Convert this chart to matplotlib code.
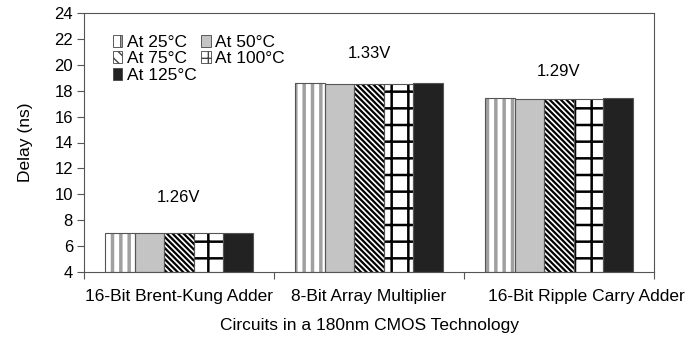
import matplotlib
matplotlib.use("Agg")
import matplotlib.pyplot as plt
import matplotlib.transforms as mtransforms
import numpy as np

plt.rcParams['font.family'] = ['Liberation Sans', 'DejaVu Sans']

circuits = ["16-Bit Brent-Kung Adder", "8-Bit Array Multiplier", "16-Bit Ripple Carry Adder"]
temps = ["At 25°C", "At 50°C", "At 75°C", "At 100°C", "At 125°C"]
delay_25 = [7.05, 18.60, 17.40]
delay_50 = [7.05, 18.55, 17.35]
delay_75 = [7.05, 18.55, 17.35]
delay_100 = [7.05, 18.55, 17.35]
delay_125 = [7.05, 18.60, 17.40]
voltages = ["1.26V", "1.33V", "1.29V"]
voltage_y = [9.75, 20.9, 19.45]

series = [delay_25, delay_50, delay_75, delay_100, delay_125]
# face, hatch, hatch colour, hatch width
styles = [
    ("white", "||", "#a0a0a0", 2.5),
    ("#c4c4c4", None, "#c4c4c4", 1.0),
    ("white", "\\\\\\\\\\\\", "black", 1.6),
    ("white", "+", "black", 1.8),
    ("#222222", None, "#222222", 1.0),
]

fig = plt.figure(figsize=(6.9, 3.41), dpi=100)
ax = fig.add_axes([84 / 690, 1 - 272 / 341, 570 / 690, 259 / 341])

x = np.arange(len(circuits))
w = 0.155
handles = []
for i, (vals, (fc, hatch, hc, hlw)) in enumerate(zip(series, styles)):
    pos = x + (i - 2) * w
    with plt.rc_context({"hatch.linewidth": hlw}):
        ax.bar(pos, np.array(vals) - 4, w, bottom=4, color=fc, hatch=hatch,
               edgecolor=hc, linewidth=0, zorder=2)
    ax.bar(pos, np.array(vals) - 4, w, bottom=4, fill=False,
           edgecolor="#555555", linewidth=0.8, zorder=3)
    hh = hatch[:3] if hatch else None
    with plt.rc_context({"hatch.linewidth": hlw * 0.6}):
        h = matplotlib.patches.Patch(facecolor=fc, hatch=hh, edgecolor="#444444",
                                     linewidth=0.6, label=temps[i])
    handles.append(h)

for xi, txt, yv in zip(x, voltages, voltage_y):
    ax.text(xi, yv, txt, ha="center", va="center", fontsize=12)

ax.set_ylim(4, 24)
ax.set_yticks(np.arange(4, 25, 2))
ax.set_xlim(-0.5, 2.5)
ax.set_xticks(x)
ax.set_xticklabels(circuits, fontsize=12.5)
ax.set_xticks([-0.5, 0.5, 1.5, 2.5], minor=True)
ax.tick_params(axis="x", which="major", length=0, pad=12)
ax.tick_params(axis="x", which="minor", length=5, color="#555555", width=0.8)
ax.tick_params(axis="y", labelsize=12, length=5, color="#555555", width=0.8, pad=3)
for s in ax.spines.values():
    s.set_color("#555555")
    s.set_linewidth(0.8)

# the last label sits to the right in the original (Excel layout)
lbls = ax.get_xticklabels()
lbls[2].set_transform(lbls[2].get_transform() +
                      mtransforms.ScaledTranslation(0.27, 0, fig.dpi_scale_trans))

ax.set_ylabel("Delay (ns)", fontsize=12.5, labelpad=15)
ax.set_xlabel("Circuits in a 180nm CMOS Technology", fontsize=12.5, labelpad=10)

order = [0, 2, 4, 1, 3]
ax.legend([handles[k] for k in order], [temps[k] for k in order], ncol=2,
          loc="upper left", bbox_to_anchor=(0.035, 0.95), frameon=False,
          fontsize=12.5, handlelength=0.55, handleheight=0.7, handletextpad=0.25,
          columnspacing=0.3, labelspacing=0.08, borderpad=0)

fig.savefig("out.png", dpi=100)
